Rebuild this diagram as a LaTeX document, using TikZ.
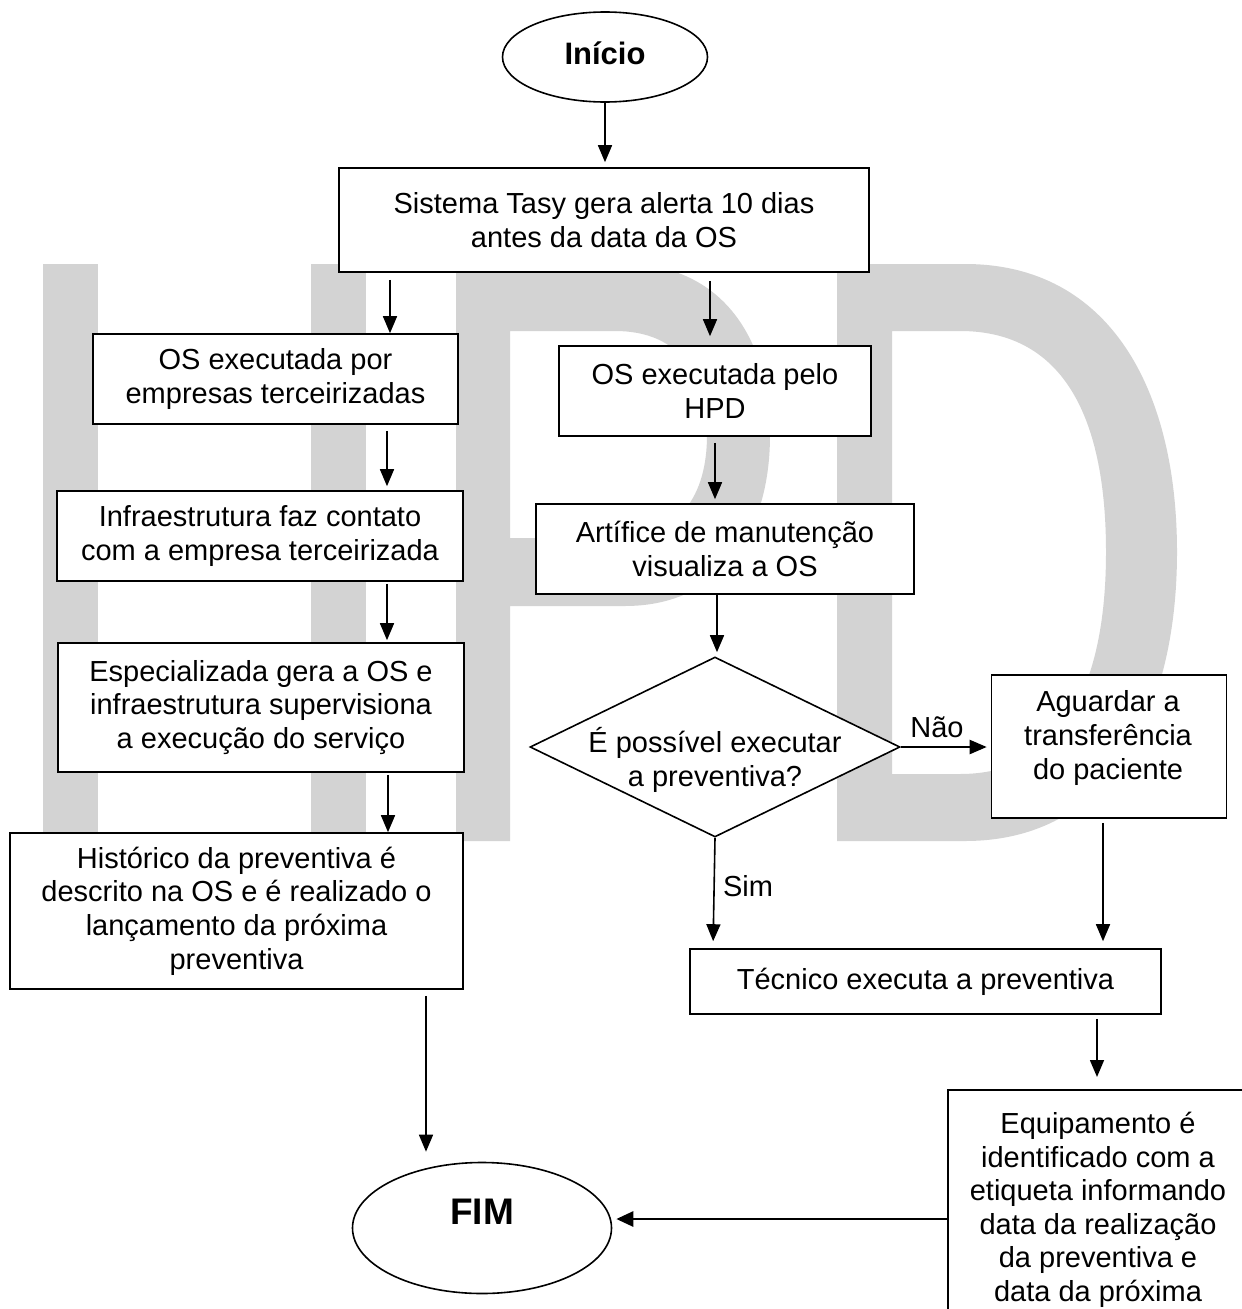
\documentclass[tikz,border=0pt]{standalone}
\usepackage{fontspec}
\setmainfont{Liberation Sans}
\usetikzlibrary{arrows.meta,shapes.geometric}
\definecolor{wm}{RGB}{211,211,211}
\begin{document}
\begin{tikzpicture}[x=1pt,y=-1pt,
  box/.style={draw,line width=1.6pt,fill=white,align=center,inner sep=0pt,
    font=\fontsize{29}{33.6}\selectfont},
  lab/.style={inner sep=0pt,font=\fontsize{29}{33.6}\selectfont},
  term/.style={draw,ellipse,line width=1.6pt,fill=white,inner sep=0pt},
  arr/.style={line width=1.6pt,-{Triangle[length=17pt,width=14pt]}},
  bigarr/.style={line width=2.8pt,-{Triangle[length=17pt,width=15pt]}}]
\useasboundingbox (0,0) rectangle (1242,1309);
\clip (0,0) rectangle (1242,1309);
% watermark HPD
\fill[wm] (43,264) rectangle (98,841);
\fill[wm] (311,264) rectangle (366,841);
\fill[wm] (98,525) rectangle (311,578);
\fill[wm,even odd rule] (456,264) -- (625,264) .. controls (715,264) and (770,330) .. (770,435)
   .. controls (770,540) and (715,606) .. (625,606) -- (510,606) -- (510,841) -- (456,841) -- cycle
   (510,331) -- (615,331) .. controls (680,331) and (707,375) .. (707,435)
   .. controls (707,495) and (680,538) .. (615,538) -- (510,538) -- cycle;
\fill[wm,even odd rule] (837,264) -- (965,264) .. controls (1110,264) and (1177,390) .. (1177,552)
   .. controls (1177,714) and (1110,841) .. (965,841) -- (837,841) -- cycle
   (892,331) -- (960,331) .. controls (1065,331) and (1106,420) .. (1106,552)
   .. controls (1106,690) and (1060,774) .. (960,774) -- (892,774) -- cycle;
% nodes
\node[term,minimum width=205pt,minimum height=90pt,font=\bfseries\fontsize{31}{36}\selectfont,
  text height=22pt,text depth=8pt] (inicio) at (605,57) {Início};
\node[box,minimum width=530pt,minimum height=104pt] (box1) at (604,220)
  {Sistema Tasy gera alerta 10 dias\\antes da data da OS};
\node[box,minimum width=365pt,minimum height=90pt] (boxA) at (275.5,379)
  {OS executada por\\empresas terceirizadas};
\node[box,minimum width=312pt,minimum height=90pt] (boxB) at (715,391)
  {OS executada pelo\\HPD};
\node[box,minimum width=406pt,minimum height=90pt] (boxC) at (260,536)
  {Infraestrutura faz contato\\com a empresa terceirizada};
\node[box,minimum width=378pt,minimum height=90pt] (boxD) at (725,549)
  {Artífice de manutenção\\visualiza a OS};
\node[box,minimum width=406pt,minimum height=129pt] (boxE) at (261,707.5)
  {Especializada gera a OS e\\infraestrutura supervisiona\\a execução do serviço};
\node[draw,diamond,line width=1.6pt,fill=white,inner sep=0pt,minimum width=370pt,
  minimum height=180pt] (dia) at (715,747) {};
\node[lab,align=center] (diatext) at (715,760) {É possível executar\\a preventiva?};
\node[box,minimum width=235pt,minimum height=143pt] (boxF) at (1109,746.5) {};
\node[lab,align=center] (boxFtext) at (1108,738) {Aguardar a\\transferência\\do paciente};
\node[box,minimum width=453pt,minimum height=156pt] (boxG) at (236.5,911)
  {Histórico da preventiva é\\descrito na OS e é realizado o\\lançamento da próxima\\preventiva};
\node[box,minimum width=471pt,minimum height=65pt] (boxH) at (925.5,981.5)
  {Técnico executa a preventiva};
\node[box,draw=none,anchor=north west,minimum width=340pt,minimum height=260pt] (boxI) at (948,1090) {};
\draw[line width=1.6pt] (boxI.north east) -- (boxI.north west) -- (boxI.south west);
\node[lab,align=center,anchor=north] (boxItext) at (1098,1112)
  {Equipamento é\\identificado com a\\etiqueta informando\\data da realização\\da preventiva e\\data da próxima};
\node[term,minimum width=259pt,minimum height=131pt,font=\bfseries\fontsize{37}{42}\selectfont,
  text height=26.5pt,text depth=34.5pt] (fim) at (482,1228) {FIM};
\node[lab] (nao) at (937,727) {Não};
\node[lab] (sim) at (748,886) {Sim};
% connectors
\draw[arr,shorten >=5pt] (inicio.south) -- (inicio.south |- box1.north);
\draw[arr,shorten <=7pt] (390,0 |- box1.south) -- (390,0 |- boxA.north);
\draw[arr,shorten <=8pt,shorten >=9pt] (710,0 |- box1.south) -- (710,0 |- boxB.north);
\draw[arr,shorten <=6pt,shorten >=4pt] (387,0 |- boxA.south) -- (387,0 |- boxC.north);
\draw[arr,shorten <=6pt,shorten >=4pt] (715,0 |- boxB.south) -- (715,0 |- boxD.north);
\draw[arr,shorten <=2pt,shorten >=2pt] (387,0 |- boxC.south) -- (387,0 |- boxE.north);
\draw[arr,shorten >=4pt] (717,0 |- boxD.south) -- (717,0 |- dia.north);
\draw[arr,shorten <=2pt] (388,0 |- boxE.south) -- (388,0 |- boxG.north);
\draw[arr,line width=2.2pt,shorten >=4pt] (dia.east) -- (dia.east -| boxF.west);
\draw[arr,shorten >=7pt] (dia.south) -- (713,0 |- boxH.north);
\draw[arr,shorten <=4pt,shorten >=7pt] (1103,0 |- boxF.south) -- (1103,0 |- boxH.north);
\draw[arr,shorten <=4pt,shorten >=13pt] (1097,0 |- boxH.south) -- (1097,0 |- boxI.north);
\draw[arr,shorten <=6pt,shorten >=10pt] (426,0 |- boxG.south) -- (426,0 |- fim.north);
\coordinate (finlvl) at (0,1219);
\draw[bigarr,shorten >=4pt] (boxI.west |- finlvl) -- (fim.east |- finlvl);
\end{tikzpicture}
\end{document}
